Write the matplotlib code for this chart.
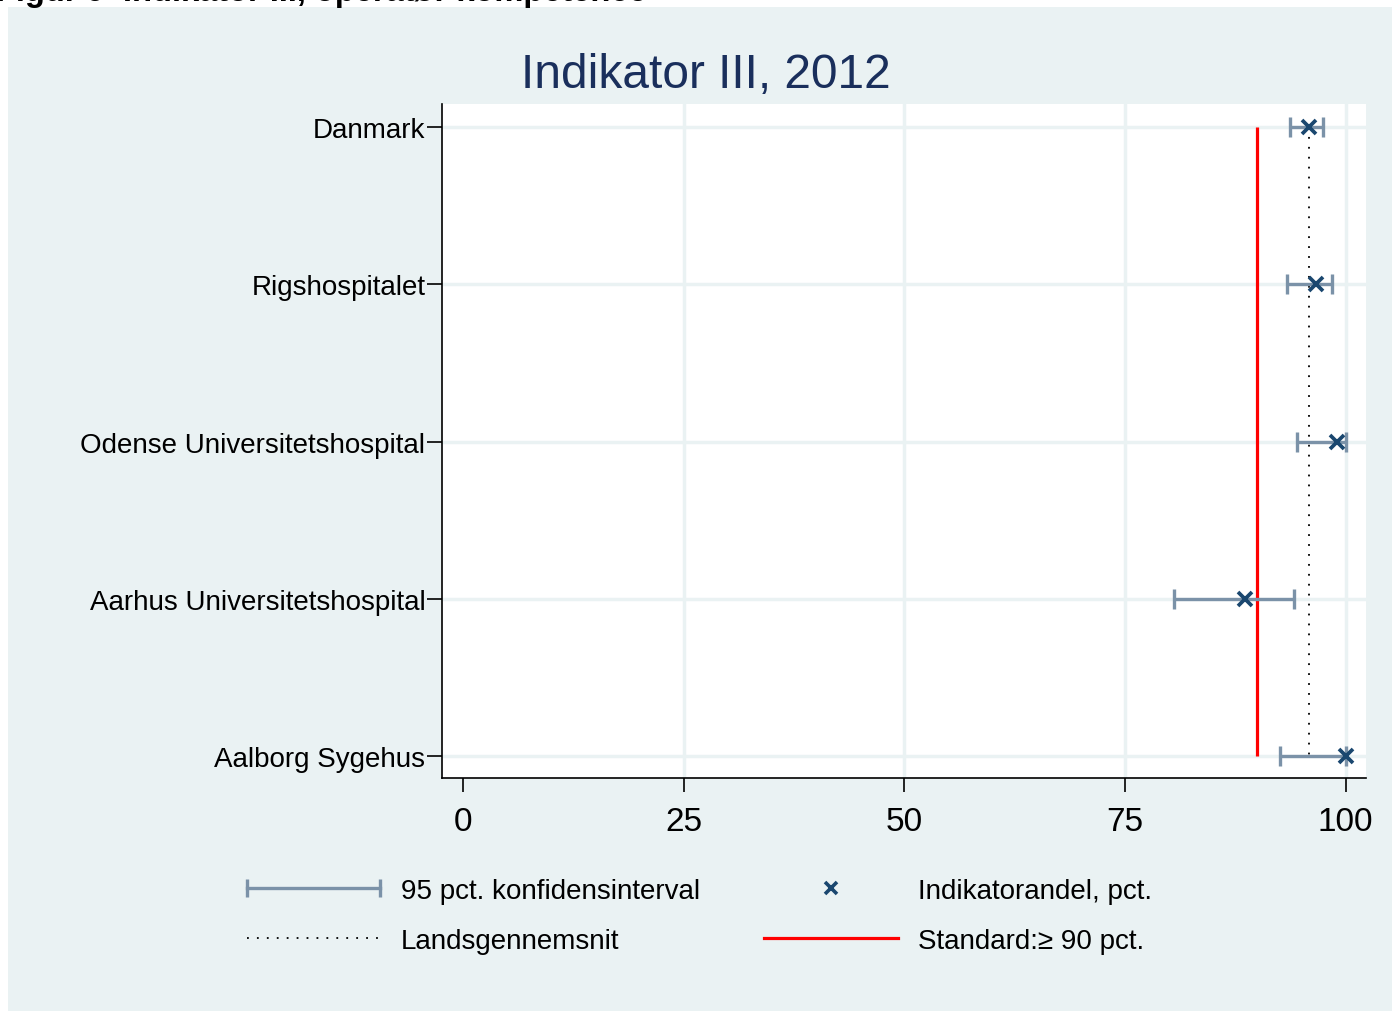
import matplotlib.pyplot as plt
from matplotlib.lines import Line2D
from matplotlib.patches import Rectangle
from matplotlib.legend_handler import HandlerLine2D

plt.rcParams['font.family'] = ['Liberation Sans', 'DejaVu Sans']

# data
units = ["Danmark", "Rigshospitalet", "Odense Universitetshospital",
         "Aarhus Universitetshospital", "Aalborg Sygehus"]
andel = [95.8, 96.6, 99.0, 88.6, 100.0]
ci_low = [93.7, 93.4, 94.5, 80.5, 92.5]
ci_high = [97.4, 98.5, 100.0, 94.1, 100.0]
landsgennemsnit = 95.8
standard = 90
xticks = [0, 25, 50, 75, 100]

bg = '#eaf2f3'
navy = '#1a476f'
ci_col = '#7b92a8'

fig = plt.figure(figsize=(13.92, 10.12), dpi=100, facecolor='white')
fig.patches.append(Rectangle((8 / 1392, 0), 1, 1 - 8 / 1012, transform=fig.transFigure,
                             facecolor=bg, edgecolor='none', zorder=-10))
# page caption that sits mostly above the picture's edge
fig.text(-0.003, 1 - 1 / 1012, "Figur 9  Indikator III, operatør kompetence",
         fontsize=23.5, fontweight='bold', va='baseline', ha='left', color='black')

ax = fig.add_axes([442 / 1392, 1 - 779 / 1012, 924 / 1392, 674 / 1012])
ax.set_facecolor('white')

ypos = list(range(len(units)))
xerr = [[a - l for a, l in zip(andel, ci_low)], [h - a for a, h in zip(andel, ci_high)]]

ax.errorbar(andel, ypos, xerr=xerr, fmt='none', ecolor=ci_col, elinewidth=2.4,
            capsize=7, capthick=2.4, zorder=3)
ax.plot(andel, ypos, linestyle='none', marker='x', markersize=9.5, markeredgewidth=2.7,
        color=navy, zorder=4)
ax.vlines(landsgennemsnit, ypos[0], ypos[-1], colors='black', linestyles=(0, (1, 4.5)),
          linewidth=1.3, zorder=2)
ax.vlines(standard, ypos[0], ypos[-1], colors='#ff0000', linewidth=2.3, zorder=2)

ax.set_xlim(-2.4, 102.3)
ax.set_ylim(ypos[-1] + 0.14, ypos[0] - 0.147)
ax.set_yticks(ypos)
ax.set_yticklabels(units, fontsize=20)
ax.set_xticks(xticks)
ax.set_xticklabels([str(t) for t in xticks], fontsize=24)
ax.tick_params(axis='y', length=11, width=1.2, pad=1)
ax.tick_params(axis='x', length=10, width=1.2, pad=10.5)

for y in ypos:
    ax.axhline(y, color=bg, linewidth=2.5, zorder=0)
for x in xticks[1:]:
    ax.axvline(x, color=bg, linewidth=2.5, zorder=0)

for s in ['top', 'right']:
    ax.spines[s].set_visible(False)
for s in ['left', 'bottom']:
    ax.spines[s].set_linewidth(1.2)

fig.text(706 / 1392, 1 - 76 / 1012, "Indikator III, 2012", fontsize=34.5,
         color='#1a2f5c', ha='center', va='center')

# legend
h_ci = Line2D([], [], color=ci_col, linewidth=2.4, marker='|', markersize=13,
              markeredgewidth=2.4)
h_mean = Line2D([], [], color='black', linewidth=1.3, linestyle=(0, (1, 4.5)))
h_x = Line2D([], [], linestyle='none', marker='x', markersize=9, markeredgewidth=2.6,
             color=navy)
h_std = Line2D([], [], color='#ff0000', linewidth=2.3)

leg = fig.legend([h_ci, h_mean, h_x, h_std],
                 ["95 pct. konfidensinterval", "Landsgennemsnit",
                  "Indikatorandel, pct.", "Standard:\u2265 90 pct."],
                 ncol=2, loc='center left', bbox_to_anchor=(222 / 1392, 1 - 917 / 1012),
                 frameon=False, fontsize=20, handlelength=4.8, handletextpad=0.75,
                 columnspacing=2.3, labelspacing=0.85, numpoints=1,
                 handler_map={h_ci: HandlerLine2D(numpoints=2, marker_pad=0)})

plt.savefig('out.png', dpi=100, facecolor=fig.get_facecolor())
